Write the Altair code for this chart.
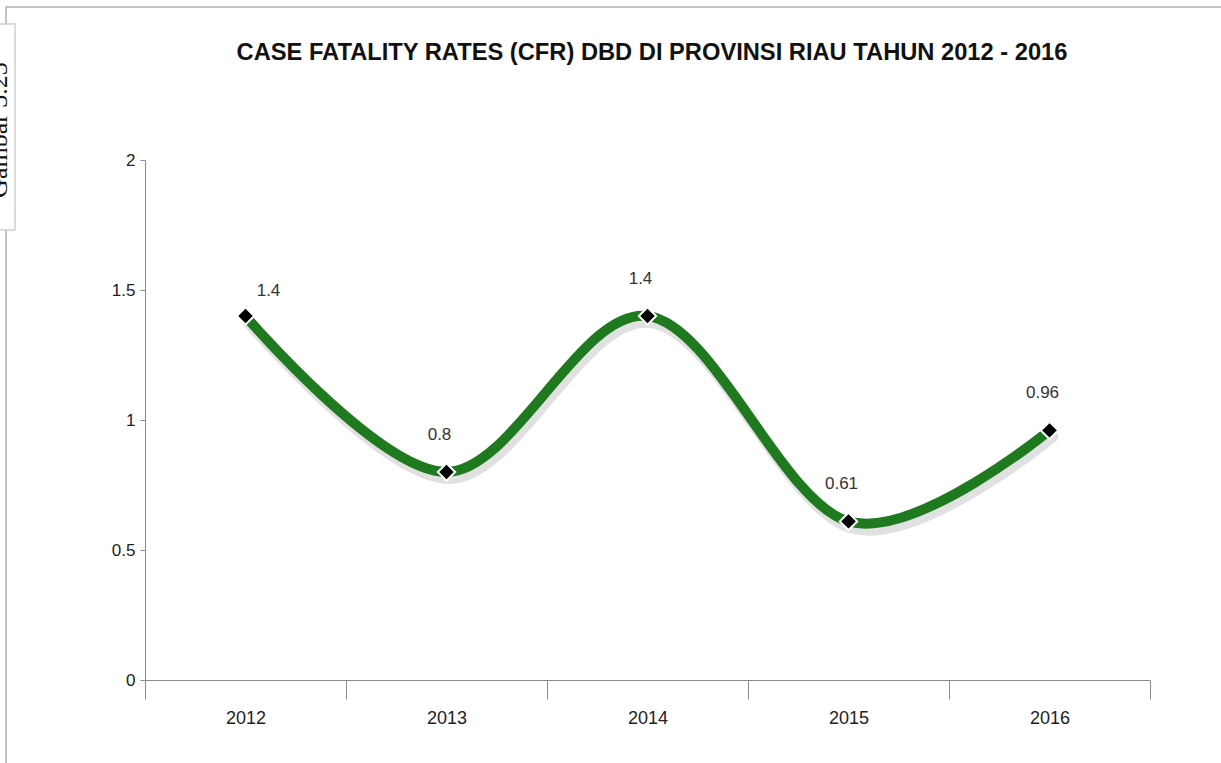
import altair as alt
import pandas as pd

# CFR DBD per year, Provinsi Riau
years = ["2012", "2013", "2014", "2015", "2016"]
cfr = [1.4, 0.8, 1.4, 0.61, 0.96]
y_ticks = [0, 0.5, 1, 1.5, 2]
title_text = "CASE FATALITY RATES (CFR) DBD DI PROVINSI RIAU TAHUN 2012 - 2016"
caption_text = "Gambar 3.23"

df = pd.DataFrame({"tahun": years, "cfr": cfr})
df["label"] = [f"{v:g}" for v in cfr]

FONT = "Liberation Sans"
GREEN = "#1f7a1f"
AXIS_GREY = "#8a8a8a"

x_enc = alt.X(
    "tahun:N",
    sort=years,
    title=None,
    scale=alt.Scale(paddingInner=0, paddingOuter=0),
    axis=alt.Axis(
        labelAngle=0,
        tickBand="extent",
        tickSize=19,
        labelPadding=10,
        grid=False,
        domainColor=AXIS_GREY,
        tickColor=AXIS_GREY,
        labelFontSize=18,
        labelColor="#222222",
        labelFont=FONT,
    ),
)
y_enc = alt.Y(
    "cfr:Q",
    title=None,
    scale=alt.Scale(domain=[0, 2], nice=False, zero=True),
    axis=alt.Axis(
        values=y_ticks,
        format="~g",
        grid=False,
        tickSize=5,
        labelPadding=5,
        domainColor=AXIS_GREY,
        tickColor=AXIS_GREY,
        labelFontSize=17,
        labelColor="#222222",
        labelFont=FONT,
        labelFlush=False,
    ),
)

base = alt.Chart(df)

shadow = base.mark_line(
    interpolate="cardinal", stroke="#bdbdbd", strokeWidth=12, opacity=0.45,
    xOffset=3, yOffset=6, strokeCap="round",
).encode(x=x_enc, y=y_enc)

line = base.mark_line(
    interpolate="cardinal", stroke=GREEN, strokeWidth=10, strokeCap="round",
).encode(x=x_enc, y=y_enc)

points = base.mark_point(
    shape="diamond", size=300, filled=True, fill="black",
    stroke="white", strokeWidth=2, opacity=1,
).encode(x=x_enc, y=y_enc)

labels_main = base.transform_filter(alt.datum.tahun != "2012").mark_text(
    font=FONT, fontSize=17, color="#333333", dx=-7, dy=-37, baseline="middle",
).encode(x=x_enc, y=y_enc, text="label:N")

labels_first = base.transform_filter(alt.datum.tahun == "2012").mark_text(
    font=FONT, fontSize=17, color="#333333", dx=23, dy=-25, baseline="middle",
).encode(x=x_enc, y=y_enc, text="label:N")

one = pd.DataFrame({"a": [0]})

title = alt.Chart(pd.DataFrame({"t": [title_text]})).mark_text(
    font=FONT, fontSize=23.7, fontWeight="bold", color="#111111",
    align="center", baseline="middle",
).encode(x=alt.value(507), y=alt.value(-107), text="t:N")

# page frame and side caption box
frame_top = alt.Chart(one).mark_rule(color="#c4c4c4", strokeWidth=2).encode(
    x=alt.value(-140), x2=alt.value(1080), y=alt.value(-153)
)
frame_left = alt.Chart(one).mark_rule(color="#c4c4c4", strokeWidth=2).encode(
    x=alt.value(-139), y=alt.value(-153), y2=alt.value(610)
)
side_box = alt.Chart(one).mark_rect(
    fill="white", stroke="#d0d0d0", strokeWidth=1.5
).encode(x=alt.value(-150), x2=alt.value(-130), y=alt.value(-136), y2=alt.value(70))
side_text = alt.Chart(pd.DataFrame({"t": [caption_text]})).mark_text(
    font="Liberation Serif", fontSize=26, angle=270, baseline="bottom",
    align="center", color="#111111",
).encode(x=alt.value(-133), y=alt.value(-30), text="t:N")

chart = alt.layer(
    frame_top, frame_left, side_box, side_text, title,
    shadow, line, points, labels_main, labels_first,
).properties(
    width=1005,
    height=520,
    padding={"left": 145, "top": 160, "right": 71, "bottom": 83},
    autosize="none",
    view=alt.ViewBackground(strokeOpacity=0, strokeWidth=0),
).configure_view(strokeOpacity=0, strokeWidth=0).configure(background="white")

chart.save("out.html", embed_options={"renderer": "svg", "actions": False})
